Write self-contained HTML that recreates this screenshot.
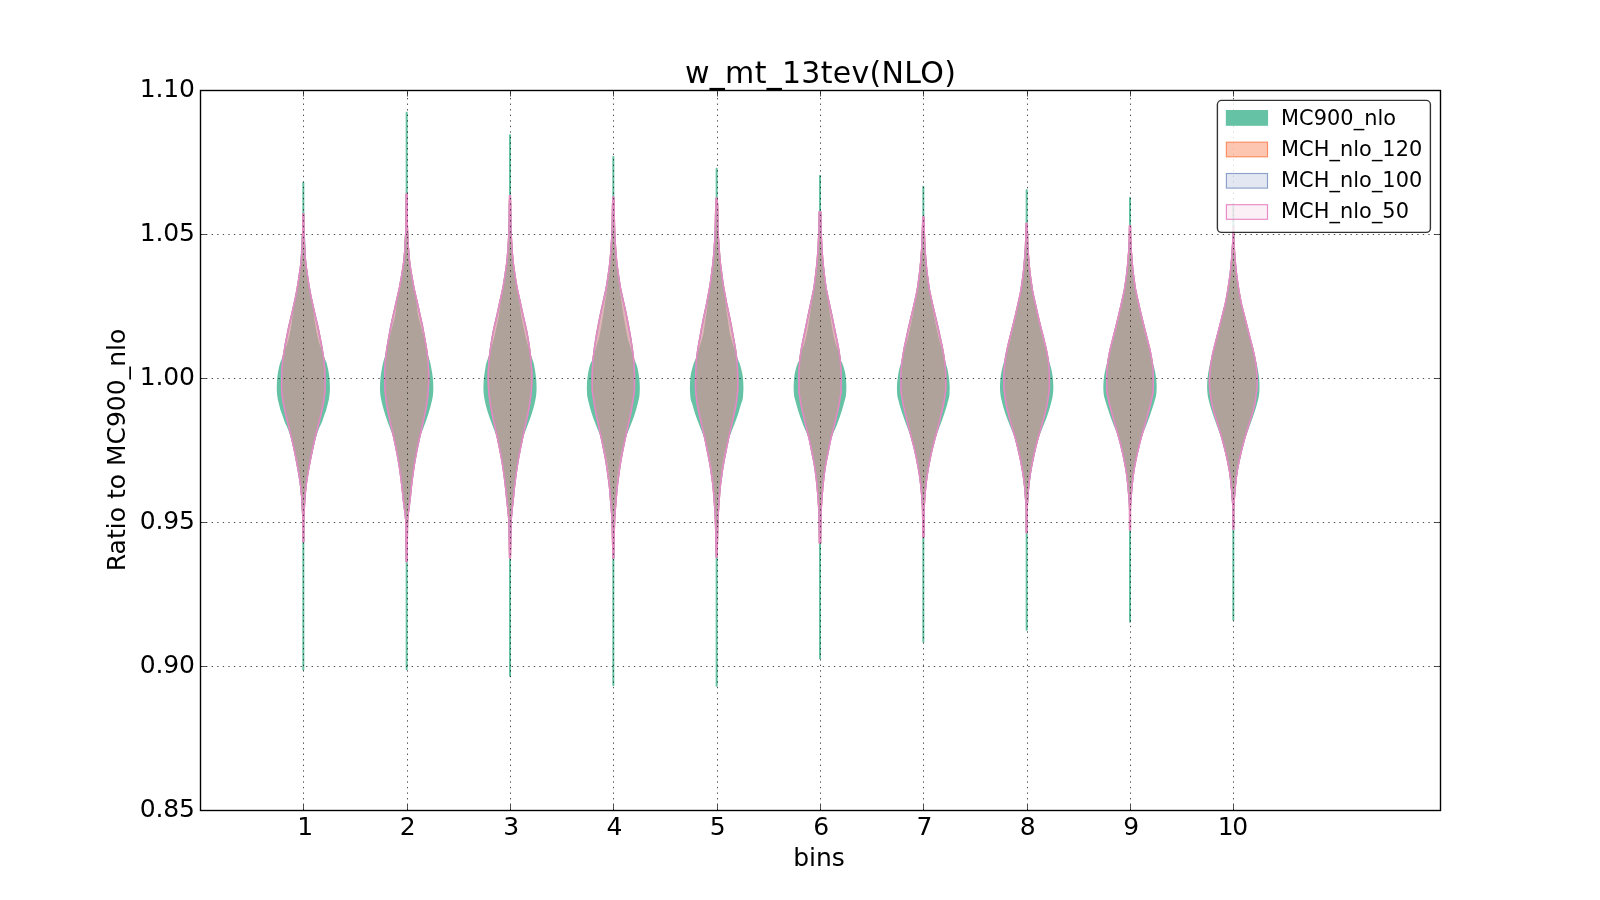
<!DOCTYPE html>
<html><head><meta charset="utf-8"><title>w_mt_13tev(NLO)</title>
<style>html,body{margin:0;padding:0;background:#fff;overflow:hidden}body{width:1600px;height:900px}text{filter:grayscale(1)}</style>
</head><body>
<svg width="1600" height="900" viewBox="0 0 1600 900" style="display:block">
<rect width="1600" height="900" fill="#fff"/>
<defs><clipPath id="ax"><rect x="200" y="90" width="1240" height="720"/></clipPath></defs>
<g clip-path="url(#ax)" stroke-width="1.39" stroke-linejoin="round">
<defs><path id="hv" d="M302.93 213.9L302.89 228L302.17 246L301.57 256L301.13 261L300.69 265L298.54 280L297.06 289L295.99 295L295.17 299L292.05 313L289.21 325L287.91 331L285.18 345L283.51 355L282.68 361L281.92 370L281.74 374L281.63 387L281.72 390L281.95 393L282.79 400L284.58 409L285.87 415L291.14 436L292.77 443L294.3 450L296.12 459L298.18 470L299.04 475L300.24 483L301.07 490L301.8 498L302.8 517L302.93 522L302.93 541.5L303.73 541.5L303.73 522L303.87 517L304.87 498L305.6 490L306.43 483L307.63 475L308.49 470L310.55 459L312.36 450L313.89 443L315.52 436L320.8 415L322.09 409L323.88 400L324.72 393L324.95 390L325.03 387L324.92 374L324.75 370L323.98 361L323.15 355L321.49 345L318.75 331L317.45 325L314.62 313L311.49 299L310.68 295L309.61 289L308.13 280L305.98 265L305.53 261L305.1 256L304.49 246L303.78 228L303.73 213.9Z M406.27 193.9L406.1 207L406 225L405.9 229L405.28 242L404.87 249L404.31 256L403.69 262L402.99 267L401.54 276L399.56 287L398.97 290L395.99 303L391.11 325L389.96 331L386.93 348L385.97 355L385.33 361L384.8 370L384.67 376L384.8 383L385.15 391L385.73 397L386.62 404L387.49 409L389.1 417L394.09 439L395.76 447L397.31 455L398.55 462L399.5 468L400.62 476L401.75 485L402.61 493L403.27 500L403.84 504L405.32 516L405.71 520L405.88 527L406.27 561.5L407.07 561.5L407.46 527L407.62 520L408.01 516L409.5 504L410.07 500L410.72 493L411.58 485L412.71 476L413.84 468L414.78 462L416.03 455L417.57 447L419.25 439L424.23 417L425.84 409L426.72 404L427.61 397L428.19 391L428.54 383L428.67 376L428.53 370L428 361L427.37 355L426.41 348L423.38 331L422.22 325L417.35 303L414.37 290L413.77 287L411.8 276L410.34 267L409.65 262L409.02 256L408.46 249L408.05 242L407.43 229L407.33 225L407.23 207L407.07 193.9Z M509.6 195.6L509.59 198L509.33 205L509.1 225L508.89 232L508.47 241L507.9 250L507.33 257L506.72 263L506.05 268L504.4 279L503.41 285L502.5 290L499.84 302L497.29 314L494.24 327L492.79 334L491.72 340L490.37 349L489.07 360L488.37 370L488.2 376L488.33 383L488.62 390L489.12 395L490.37 404L491.05 408L492.42 415L497.41 438L499.49 448L501.03 456L502.09 462L503.18 469L504.29 477L505.28 485L506.15 493L506.8 500L507.69 508L508.48 516L508.79 520L509 527L509.6 558.1L510.4 558.1L511 527L511.21 520L511.52 516L512.31 508L513.2 500L513.85 493L514.72 485L515.71 477L516.82 469L517.91 462L518.97 456L520.51 448L522.59 438L527.58 415L528.95 408L529.63 404L530.88 395L531.38 390L531.67 383L531.8 376L531.63 370L530.93 360L529.63 349L528.28 340L527.21 334L525.76 327L522.71 314L520.16 302L517.5 290L516.59 285L515.6 279L513.95 268L513.28 263L512.67 257L512.1 250L511.53 241L511.11 232L510.9 225L510.67 205L510.41 198L510.4 195.6Z M612.93 197.3L612.54 205L612.19 226L611.8 237L610.9 251L609.93 262L609.32 267L607.78 278L606.2 288L605.83 290L600.94 312L599.51 319L596.32 336L594.58 347L593.19 358L592.9 361L592.63 365L592.25 374L592.23 387L592.3 390L592.59 393L594.65 406L596.75 417L601.98 441L604.77 455L605.85 461L606.81 467L609 483L609.55 488L610.1 494L610.53 500L611.31 509L612.01 519L612.28 527L612.93 558.1L613.73 558.1L614.39 527L614.65 519L615.35 509L616.13 500L616.57 494L617.11 488L617.67 483L619.85 467L620.82 461L621.89 455L624.69 441L629.91 417L632.02 406L634.08 393L634.36 390L634.43 387L634.42 374L634.03 365L633.77 361L633.47 358L632.08 347L630.34 336L627.16 319L625.72 312L620.83 290L620.47 288L618.88 278L617.35 267L616.74 262L615.77 251L614.87 237L614.47 226L614.12 205L613.74 197.3Z M716.22 198.3L715.77 205L715.35 225L714.91 238L713.86 253L712.96 263L710.92 279L709.57 288L706.81 303L704.03 316L701.81 327L698.38 346L697.58 351L696.54 359L696.07 365L695.7 374L695.57 387L695.73 391L696.08 395L696.8 401L697.41 405L698.2 409L699.93 417L704.99 439L709.16 460L710.86 470L712.64 483L713.19 488L713.79 495L714.68 507L715.26 517L715.58 526L716.26 557.1L717.07 557.1L717.76 526L718.07 517L718.66 507L719.55 495L720.15 488L720.7 483L722.48 470L724.17 460L728.35 439L733.4 417L735.13 409L735.92 405L736.53 401L737.26 395L737.6 391L737.77 387L737.64 374L737.27 365L736.79 359L735.75 351L734.95 346L731.52 327L729.3 316L726.52 303L723.76 288L722.41 279L720.38 263L719.47 253L718.43 238L717.98 225L717.57 205L717.12 198.3Z M819.18 211.9L819.01 225L818.67 236L818.3 244L817.83 252L817.3 259L816.75 265L815.98 272L814.87 281L813.6 290L808.48 314L801.92 346L801.35 349L800.71 353L800.15 357L799.69 361L799.06 370L798.9 375L798.9 388L799.03 391L799.34 394L799.93 398L801.09 405L801.95 409L804.96 422L806.42 428L808.75 437L809.66 441L813.69 461L814.7 467L815.57 473L816.41 480L817.31 489L818.06 498L818.65 507L819.11 521L819.41 543.1L820.59 543.1L820.89 521L821.35 507L821.94 498L822.69 489L823.59 480L824.43 473L825.3 467L826.31 461L830.34 441L831.25 437L833.58 428L835.04 422L838.05 409L838.91 405L840.07 398L840.66 394L840.97 391L841.1 388L841.1 375L840.94 370L840.31 361L839.85 357L839.29 353L838.65 349L838.08 346L831.52 314L826.4 290L825.13 281L824.02 272L823.25 265L822.7 259L822.17 252L821.7 244L821.33 236L820.99 225L820.82 211.9Z M922.69 217.3L922.65 223L922.45 229L921.99 242L921.61 250L920.59 263L919.88 270L919.18 276L917.39 289L916.83 292L914.22 304L908.55 328L904.23 348L902.97 355L901.97 362L901.36 368L901.05 372L900.94 375L900.93 387L901.01 390L901.43 394L902.97 403L903.57 406L908.1 425L913.18 444L914.91 451L916 456L917.19 462L918.47 469L919.45 475L920.39 482L921.15 489L921.83 497L922.4 506L922.53 509L922.67 518L922.81 537.1L923.86 537.1L924 518L924.14 509L924.27 506L924.84 497L925.52 489L926.28 482L927.22 475L928.2 469L929.48 462L930.67 456L931.76 451L933.49 444L938.57 425L943.1 406L943.7 403L945.23 394L945.66 390L945.73 387L945.73 375L945.62 372L945.3 368L944.7 362L943.7 355L942.44 348L938.12 328L932.44 304L929.84 292L929.28 289L927.49 276L926.78 270L926.08 263L925.05 250L924.68 242L924.21 229L924.02 223L923.98 217.3Z M1026.24 223.4L1025.45 247L1025.19 252L1023.93 267L1023.3 273L1022.8 277L1020.97 290L1020.21 294L1015.29 316L1012.59 327L1010.03 337L1007.86 346L1006.98 350L1005.48 358L1004.8 363L1004.34 368L1004.06 372L1003.97 375L1003.97 387L1004.05 389L1005.04 397L1006.01 403L1006.81 407L1008.22 413L1009.5 418L1012.34 428L1015.32 438L1017.37 446L1019.22 454L1020.72 461L1022.03 468L1023.03 474L1024.01 481L1024.69 487L1025.19 493L1026.18 507L1026.27 510L1026.27 532.5L1027.07 532.5L1027.07 510L1027.15 507L1028.14 493L1028.64 487L1029.33 481L1030.3 474L1031.3 468L1032.62 461L1034.11 454L1035.96 446L1038.01 438L1040.99 428L1043.83 418L1045.11 413L1046.52 407L1047.33 403L1048.29 397L1049.28 389L1049.37 387L1049.36 375L1049.27 372L1049 368L1048.54 363L1047.85 358L1046.35 350L1045.48 346L1043.3 337L1040.74 327L1038.04 316L1033.12 294L1032.37 290L1030.54 277L1030.03 273L1029.41 267L1028.14 252L1027.89 247L1027.09 223.4Z M1129.55 225.6L1129.26 240L1128.73 251L1127.51 266L1126.9 272L1126.27 277L1124.4 290L1123.31 295L1120.39 308L1118.04 318L1115.57 328L1110.49 348L1109.82 351L1108.65 357L1107.73 363L1107.07 369L1106.82 372L1106.7 375L1106.7 387L1106.79 390L1107.17 393L1107.74 396L1109.49 404L1110.48 408L1113.72 420L1115.98 428L1118.67 437L1120.51 444L1122.18 451L1123.95 459L1124.93 464L1126.14 471L1126.98 477L1127.84 485L1128.72 495L1129.42 505L1129.6 510L1129.6 529.8L1130.4 529.8L1130.4 510L1130.58 505L1131.28 495L1132.16 485L1133.02 477L1133.86 471L1135.07 464L1136.05 459L1137.82 451L1139.49 444L1141.33 437L1144.02 428L1146.28 420L1149.52 408L1150.51 404L1152.26 396L1152.83 393L1153.21 390L1153.3 387L1153.3 375L1153.18 372L1152.93 369L1152.27 363L1151.35 357L1150.18 351L1149.51 348L1144.43 328L1141.96 318L1139.61 308L1136.69 295L1135.6 290L1133.73 277L1133.1 272L1132.49 266L1131.27 251L1130.74 240L1130.45 225.6Z M1232.93 227.1L1232.93 237L1232.86 240L1232.2 251L1231.68 258L1230.9 267L1230.15 274L1227.83 290L1225.87 301L1225.02 305L1216.41 339L1214.07 348L1211.83 358L1210.97 363L1210.27 369L1209.77 375L1209.52 379L1209.43 382L1209.65 388L1211.18 400L1211.68 403L1212.1 405L1213.11 409L1214.8 415L1218.32 426L1220.14 432L1221.88 438L1224.05 446L1225.79 453L1227.37 460L1228.74 467L1229.61 472L1230.43 478L1231.17 485L1232.15 496L1232.76 505L1232.93 510L1232.93 529.1L1233.73 529.1L1233.73 510L1233.91 505L1234.52 496L1235.5 485L1236.23 478L1237.06 472L1237.93 467L1239.3 460L1240.88 453L1242.61 446L1244.78 438L1246.53 432L1248.35 426L1251.86 415L1253.56 409L1254.57 405L1254.99 403L1255.48 400L1257.02 388L1257.23 382L1257.14 379L1256.9 375L1256.4 369L1255.69 363L1254.84 358L1252.6 348L1250.26 339L1241.65 305L1240.8 301L1238.83 290L1236.52 274L1235.77 267L1234.98 258L1234.46 251L1233.8 240L1233.73 237L1233.73 227.1Z"/></defs>
<path d="M303.03 182.4L303.03 230L302.91 232L302.39 236L302.19 239L300.97 266L300.6 270L300.03 275L299.32 280L298.2 287L295.3 303L292.1 325L290.73 333L289.31 339L287.87 344L287.16 346L285.07 351L282.83 358L281.18 362L280.83 363L280.01 366L278.75 372L278.13 376L277.69 381L277.43 388L277.53 391L277.73 394L278.26 398L278.65 400L280.94 409L281.53 411L283.05 415L285.43 422L286.3 424L287.83 427L289.36 431L290.68 435L291.58 438L293.36 445L296.19 458L298.85 472L300.35 482L300.84 486L301.34 491L302.09 501L302.96 517L303.03 520L303.03 670L303.63 670L303.63 520L303.71 517L304.57 501L305.33 491L305.83 486L306.32 482L307.82 472L310.48 458L313.31 445L315.08 438L315.98 435L317.31 431L318.83 427L320.36 424L321.24 422L323.62 415L325.13 411L325.73 409L328.02 400L328.41 398L328.93 394L329.14 391L329.23 388L328.98 381L328.53 376L327.92 372L326.66 366L325.83 363L325.49 362L323.83 358L321.6 351L319.5 346L318.8 344L317.36 339L315.93 333L314.57 325L311.36 303L308.47 287L307.34 280L306.64 275L306.06 270L305.7 266L304.48 239L304.27 236L303.75 232L303.63 230L303.63 182.4Z M406.37 112.4L406.37 216L406.22 230L406.09 232L405.61 236L405.47 238L404.18 262L403.82 267L402.72 276L401.09 286L400.37 290L398.87 296L397.7 302L397.28 305L396.51 312L395.87 316L395.16 319L393.25 326L390.44 337L386.29 354L385.49 357L383.99 362L383.09 366L381.84 373L381.3 377L380.87 382L380.67 388L380.82 392L381.2 396L381.98 400L383.39 406L384.52 410L386.05 415L388.08 421L391.43 430L393.47 435L394.02 436L395.54 443L396.95 450L399.15 462L400.1 468L401.09 475L402.58 487L403.87 500L404.57 505L406.24 519L406.37 522L406.37 669.3L406.97 669.3L406.97 522L407.1 519L408.77 505L409.47 500L410.75 487L412.25 475L413.24 468L414.18 462L416.38 450L417.79 443L419.31 436L419.87 435L421.9 430L425.25 421L427.28 415L428.81 410L429.94 406L431.36 400L432.14 396L432.51 392L432.67 388L432.47 382L432.03 377L431.49 373L430.24 366L429.34 362L427.85 357L427.05 354L422.89 337L420.09 326L418.17 319L417.46 316L416.82 312L416.05 305L415.63 302L414.47 296L412.97 290L412.24 286L410.61 276L409.51 267L409.15 262L407.87 238L407.72 236L407.24 232L407.11 230L406.97 216L406.97 112.4Z M509.7 135L509.7 215L509.63 222L509.38 231L508.87 237L507.56 261L507 268L506.06 276L504.4 287L503.9 290L502.55 296L501.6 301L501.13 304L499.7 315L498.99 319L497.97 324L495.55 335L493.25 344L491.17 351L489.5 356L487.36 362L486.83 364L486.41 366L485.38 372L484.63 378L484.3 382L484.1 388L484.26 392L484.62 396L485.34 400L486.7 406L488.45 412L490.42 418L497.2 436L497.8 437L500.49 450L502.85 463L503.92 470L505.02 478L506.44 490L509.17 517L509.48 522L509.7 533L509.7 676L510.3 676L510.3 533L510.52 522L510.83 517L513.56 490L514.98 478L516.08 470L517.15 463L519.51 450L522.2 437L522.8 436L529.58 418L531.55 412L533.3 406L534.66 400L535.38 396L535.74 392L535.9 388L535.7 382L535.37 378L534.62 372L533.59 366L533.17 364L532.64 362L530.5 356L528.83 351L526.75 344L524.45 335L522.03 324L521.01 319L520.3 315L518.87 304L518.4 301L517.45 296L516.1 290L515.6 287L513.94 276L513 268L512.44 261L511.13 237L510.62 231L510.37 222L510.3 215L510.3 135Z M613.03 156.7L613.03 215L612.91 223L612.62 231L612.29 236L611.03 260L610.59 266L609.77 274L608.07 287L604.25 313L602.77 322L600.6 334L599.98 337L599.24 340L597.63 345L594.1 357L593.03 360L591.46 363L590.74 365L589.9 368L588.84 373L587.99 379L587.68 383L587.53 388L587.73 394L587.95 396L588.33 398L589.76 404L591.09 409L592.61 414L593.97 418L597.45 427L600.28 434L602.45 440L604.44 446L605.81 451L607.24 458L608.85 468L609.88 476L610.89 486L610.97 487L610.75 488L612.36 507L613.03 516L613.03 685.3L613.63 685.3L613.64 516L614.31 507L615.91 488L615.7 487L615.78 486L616.79 476L617.82 468L619.42 458L620.86 451L622.22 446L624.21 440L626.38 434L629.22 427L632.69 418L634.06 414L635.58 409L636.91 404L638.33 398L638.72 396L638.93 394L639.13 388L638.98 383L638.67 379L637.83 373L636.77 368L635.93 365L635.21 363L633.63 360L632.56 357L629.03 345L627.43 340L626.69 337L626.06 334L623.9 322L622.41 313L618.6 287L616.9 274L616.08 266L615.64 260L614.38 236L614.05 231L613.76 223L613.63 215L613.63 156.7Z M716.37 168.4L716.37 215L716.26 221L715.29 240L714.33 256L713.79 263L712.94 271L711.92 279L709.27 297L707.4 312L705.26 326L704.37 333L703.63 336L700.97 345L698.9 351L696.75 358L696.37 359L694.99 362L694.23 364L693.61 366L692.81 369L691.63 374L691.19 377L690.77 382L690.57 388L690.67 391L691 396L691.18 398L691.47 400L691.82 401L692.29 402L692.98 404L695.31 412L696.27 415L697.71 419L703.46 434L706.34 442L708.03 447L709.14 451L709.81 454L710.57 458L712.37 469L713.31 476L714.23 485L715.03 496L715.77 510L716.27 517L716.37 520L716.37 686L716.97 686L716.97 520L717.06 517L717.57 510L718.3 496L719.1 485L720.02 476L720.96 469L722.76 458L723.52 454L724.19 451L725.3 447L726.99 442L729.88 434L735.62 419L737.06 415L738.02 412L740.35 404L741.04 402L741.51 401L741.87 400L742.15 398L742.33 396L742.66 391L742.77 388L742.57 382L742.14 377L741.7 374L740.52 369L739.72 366L739.1 364L738.34 362L736.96 359L736.59 358L734.43 351L732.37 345L729.7 336L728.97 333L728.07 326L725.93 312L724.06 297L721.42 279L720.39 271L719.54 263L719 256L718.04 240L717.08 221L716.97 215L716.97 168.4Z M819.7 175.7L819.68 218L819.54 225L819.07 240L817.75 262L817.06 270L816.21 278L814.7 290L813.55 296L812.69 301L809.67 322L808.67 328L807.57 334L806.48 339L805.35 343L804.35 346L802.43 351L801.84 353L800.58 358L799.97 360L799.6 361L798.54 363L797.42 366L796.83 368L795.8 372L795.19 375L794.72 379L794.4 384L794.3 388L794.52 393L794.88 396L795.34 398L797.25 405L798.71 410L800.97 417L803.53 424L805.56 429L807.36 433L808.3 435L809.1 436L809.59 438L810.68 443L813.71 458L814.82 464L815.75 470L816.43 475L817.73 487L818.58 497L819.19 506L819.38 510L819.69 520L819.7 658.6L820.3 658.6L820.31 520L820.62 510L820.81 506L821.42 497L822.27 487L823.57 475L824.25 470L825.18 464L826.29 458L829.32 443L830.41 438L830.9 436L831.7 435L832.64 433L834.44 429L836.47 424L839.03 417L841.29 410L842.75 405L844.66 398L845.12 396L845.48 393L845.7 388L845.6 384L845.28 379L844.81 375L844.2 372L843.17 368L842.58 366L841.46 363L840.4 361L840.03 360L839.42 358L838.16 353L837.57 351L835.65 346L834.65 343L833.52 339L832.43 334L831.33 328L830.33 322L827.31 301L826.45 296L825.3 290L823.79 278L822.94 270L822.25 262L820.93 240L820.46 225L820.32 218L820.3 175.7Z M923.03 186.5L923.02 218L922.69 241L922.1 249L921.41 261L920.79 269L920 277L918.56 289L918.43 290L913.22 317L911.38 326L909.23 336L907.7 342L905.06 351L902.03 362L900.23 368L899.73 370L898.98 374L898.12 380L897.72 385L897.63 388L897.83 394L898.07 396L898.51 398L900.39 405L901.59 409L903.2 414L905.64 421L910.83 435L911.66 436L915.04 449L917.01 458L919.25 470L920.47 478L921.55 487L922.43 497L923.03 507L923.03 642L923.63 642L923.63 507L924.24 497L925.11 487L926.2 478L927.42 470L929.66 458L931.63 449L935.01 436L935.83 435L941.03 421L943.46 414L945.08 409L946.28 405L948.16 398L948.6 396L948.83 394L949.03 388L948.94 385L948.54 380L947.69 374L946.93 370L946.44 368L944.63 362L941.61 351L938.96 342L937.44 336L935.29 326L933.45 317L928.23 290L928.1 289L926.66 277L925.88 269L925.26 261L924.57 249L923.97 241L923.64 218L923.63 186.5Z M1026.37 190L1026.35 241L1026.21 243L1025.56 249L1024.84 260L1024.28 267L1023.7 273L1023.1 278L1021.61 289L1020.65 295L1017.74 311L1015.44 322L1013.35 331L1011.08 340L1006.36 357L1004.07 364L1003.03 368L1001.91 373L1001.42 376L1001 380L1000.73 385L1000.67 388L1000.88 392L1001.34 396L1002.22 400L1004.04 407L1005.9 413L1007.65 418L1011.18 427L1013.67 433L1014.43 435L1015.98 440L1017.3 445L1019.88 456L1021.87 466L1023.24 474L1024.51 484L1024.96 489L1025.67 500L1026.26 507L1026.37 510L1026.37 630L1026.97 630L1026.97 510L1027.08 507L1027.67 500L1028.37 489L1028.83 484L1030.1 474L1031.46 466L1033.46 456L1036.03 445L1037.36 440L1038.91 435L1039.66 433L1042.15 427L1045.69 418L1047.43 413L1049.29 407L1051.11 400L1051.99 396L1052.45 392L1052.67 388L1052.61 385L1052.34 380L1051.92 376L1051.42 373L1050.31 368L1049.27 364L1046.97 357L1042.26 340L1039.98 331L1037.89 322L1035.59 311L1032.68 295L1031.72 289L1030.23 278L1029.64 273L1029.06 267L1028.49 260L1027.77 249L1027.13 243L1026.99 241L1026.97 190Z M1129.7 197.7L1129.7 240L1129.65 242L1129.11 249L1128.5 261L1127.78 271L1127.22 277L1125.7 290L1124.36 297L1122.71 305L1120.92 313L1119.02 321L1115.77 334L1113.42 343L1111.23 351L1108.82 359L1106.48 368L1105.78 371L1104.99 375L1104.35 380L1104.1 384L1104 388L1104.21 392L1104.4 394L1104.72 396L1105.23 398L1107.63 406L1110.96 416L1113.91 424L1115.13 427L1116.47 430L1117.48 431L1119.27 437L1120.35 441L1122.78 451L1125.15 462L1126.89 472L1127.92 480L1128.9 490L1129.7 500L1129.7 622L1130.3 622L1130.3 500L1131.1 490L1132.08 480L1133.11 472L1134.85 462L1137.22 451L1139.65 441L1140.73 437L1142.52 431L1143.53 430L1144.87 427L1146.09 424L1149.04 416L1152.37 406L1154.77 398L1155.28 396L1155.6 394L1155.79 392L1156 388L1155.9 384L1155.65 380L1155.01 375L1154.22 371L1153.52 368L1151.18 359L1148.77 351L1146.58 343L1144.23 334L1140.98 321L1139.08 313L1137.29 305L1135.64 297L1134.3 290L1132.78 277L1132.22 271L1131.5 261L1130.89 249L1130.35 242L1130.3 240L1130.3 197.7Z M1233.03 203.7L1233.02 241L1232.43 249L1231.86 259L1231.51 264L1230.77 272L1230.05 278L1227.97 292L1226.65 300L1225.25 307L1222.38 320L1219.57 332L1217.54 340L1213.03 356L1210.81 363L1210.35 365L1208.91 373L1208.25 378L1207.93 382L1207.83 388L1208.05 392L1208.51 396L1209.14 399L1210.67 405L1211.87 409L1214.17 416L1222.04 438L1223.24 442L1224.54 447L1227.13 458L1228.75 466L1230.11 474L1230.98 481L1231.56 487L1232.13 494L1232.86 505L1233.02 509L1233.03 620L1233.63 620L1233.64 509L1233.81 505L1234.53 494L1235.1 487L1235.69 481L1236.55 474L1237.92 466L1239.53 458L1242.13 447L1243.43 442L1244.62 438L1252.5 416L1254.79 409L1256 405L1257.52 399L1258.16 396L1258.62 392L1258.83 388L1258.73 382L1258.42 378L1257.76 373L1256.32 365L1255.86 363L1253.64 356L1249.12 340L1247.1 332L1244.28 320L1241.41 307L1240.02 300L1238.69 292L1236.62 278L1235.89 272L1235.16 264L1234.8 259L1234.24 249L1233.65 241L1233.63 203.7Z" fill="#66c2a5" stroke="#66c2a5"/>
<use href="#hv" fill="#fc8d62" fill-opacity="0.5" stroke="#fc8d62"/>
<use href="#hv" fill="#8da0cb" fill-opacity="0.25" stroke="#8da0cb"/>
<use href="#hv" fill="#e78ac3" fill-opacity="0.125" stroke="#e78ac3"/>
</g>
<g stroke="#000" stroke-width="0.69" stroke-dasharray="1.389 4.1667" fill="none">
<path d="M303.50 810.5V90"/>
<path d="M407.50 810.5V90"/>
<path d="M510.50 810.5V90"/>
<path d="M613.50 810.5V90"/>
<path d="M717.50 810.5V90"/>
<path d="M820.50 810.5V90"/>
<path d="M923.50 810.5V90"/>
<path d="M1027.50 810.5V90"/>
<path d="M1130.50 810.5V90"/>
<path d="M1233.50 810.5V90"/>
<path d="M200.5 666.50H1440.5"/>
<path d="M200.5 522.50H1440.5"/>
<path d="M200.5 378.50H1440.5"/>
<path d="M200.5 234.50H1440.5"/>
</g>
<g stroke="#000" stroke-width="0.69" fill="none">
<path d="M303.50 810.5v-6M303.50 90.5v6"/>
<path d="M407.50 810.5v-6M407.50 90.5v6"/>
<path d="M510.50 810.5v-6M510.50 90.5v6"/>
<path d="M613.50 810.5v-6M613.50 90.5v6"/>
<path d="M717.50 810.5v-6M717.50 90.5v6"/>
<path d="M820.50 810.5v-6M820.50 90.5v6"/>
<path d="M923.50 810.5v-6M923.50 90.5v6"/>
<path d="M1027.50 810.5v-6M1027.50 90.5v6"/>
<path d="M1130.50 810.5v-6M1130.50 90.5v6"/>
<path d="M1233.50 810.5v-6M1233.50 90.5v6"/>
<path d="M200.5 810.50h6M1440.5 810.50h-6"/>
<path d="M200.5 666.50h6M1440.5 666.50h-6"/>
<path d="M200.5 522.50h6M1440.5 522.50h-6"/>
<path d="M200.5 378.50h6M1440.5 378.50h-6"/>
<path d="M200.5 234.50h6M1440.5 234.50h-6"/>
<path d="M200.5 90.50h6M1440.5 90.50h-6"/>
</g>
<rect x="200.5" y="90.5" width="1240" height="720" fill="none" stroke="#000" stroke-width="1.39"/>
<g font-family="'DejaVu Sans', 'Liberation Sans', sans-serif" fill="#000">
<text x="685" y="83" font-size="30" letter-spacing="0.29">w_mt_13tev(NLO)</text>
<text x="194.6" y="817.2" font-size="25" letter-spacing="-0.2" text-anchor="end">0.85</text>
<text x="194.6" y="673.2" font-size="25" letter-spacing="-0.2" text-anchor="end">0.90</text>
<text x="194.6" y="529.2" font-size="25" letter-spacing="-0.2" text-anchor="end">0.95</text>
<text x="194.6" y="385.2" font-size="25" letter-spacing="-0.2" text-anchor="end">1.00</text>
<text x="194.6" y="241.2" font-size="25" letter-spacing="-0.2" text-anchor="end">1.05</text>
<text x="194.6" y="97.2" font-size="25" letter-spacing="-0.2" text-anchor="end">1.10</text>
<text x="305.2" y="835" font-size="25" text-anchor="middle">1</text>
<text x="407.8" y="835" font-size="25" text-anchor="middle">2</text>
<text x="511.1" y="835" font-size="25" text-anchor="middle">3</text>
<text x="614.4" y="835" font-size="25" text-anchor="middle">4</text>
<text x="717.8" y="835" font-size="25" text-anchor="middle">5</text>
<text x="821.1" y="835" font-size="25" text-anchor="middle">6</text>
<text x="924.4" y="835" font-size="25" text-anchor="middle">7</text>
<text x="1027.8" y="835" font-size="25" text-anchor="middle">8</text>
<text x="1131.1" y="835" font-size="25" text-anchor="middle">9</text>
<text x="1217.8" y="835" font-size="25" letter-spacing="-1.5">10</text>
<text x="819" y="866" font-size="25" text-anchor="middle">bins</text>
<text transform="translate(125 450) rotate(-90)" font-size="25" text-anchor="middle">Ratio to MC900_nlo</text>
</g>
<rect x="1217.4" y="100.4" width="213" height="132" rx="4.2" ry="4.2" fill="#fff" fill-opacity="0.8" stroke="#000" stroke-opacity="0.8" stroke-width="1.39"/>
<rect x="1226.4" y="110.60" width="41.1" height="14.6" fill="#66c2a5" fill-opacity="1" stroke="#66c2a5" stroke-width="1.15"/>
<text x="1281" y="124.70" letter-spacing="0.08" font-size="20.83" font-family="'DejaVu Sans', 'Liberation Sans', sans-serif" fill="#000">MC900_nlo</text>
<rect x="1226.4" y="142.20" width="41.1" height="14.6" fill="#fc8d62" fill-opacity="0.5" stroke="#fc8d62" stroke-width="1.15"/>
<text x="1281" y="155.95" letter-spacing="0.08" font-size="20.83" font-family="'DejaVu Sans', 'Liberation Sans', sans-serif" fill="#000">MCH_nlo_120</text>
<rect x="1226.4" y="173.50" width="41.1" height="14.6" fill="#8da0cb" fill-opacity="0.25" stroke="#8da0cb" stroke-width="1.15"/>
<text x="1281" y="187.20" letter-spacing="0.08" font-size="20.83" font-family="'DejaVu Sans', 'Liberation Sans', sans-serif" fill="#000">MCH_nlo_100</text>
<rect x="1226.4" y="204.70" width="41.1" height="14.6" fill="#e78ac3" fill-opacity="0.125" stroke="#e78ac3" stroke-width="1.15"/>
<text x="1281" y="218.45" letter-spacing="0.08" font-size="20.83" font-family="'DejaVu Sans', 'Liberation Sans', sans-serif" fill="#000">MCH_nlo_50</text>
</svg>
</body></html>
